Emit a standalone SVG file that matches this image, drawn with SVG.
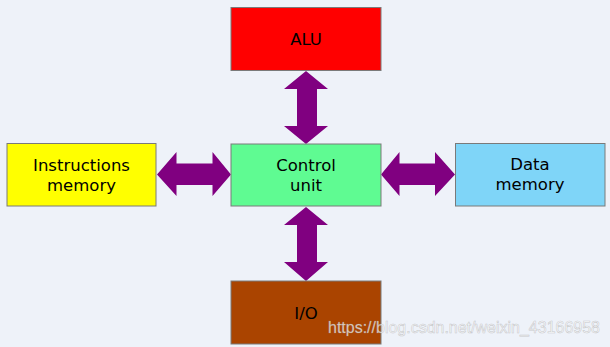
<svg xmlns="http://www.w3.org/2000/svg" width="610" height="347" viewBox="0 0 610 347">
  <style>
    .box { stroke: #7a7a7a; stroke-width: 1; }
    .lbl { font-family: "DejaVu Sans", sans-serif; font-size: 16.5px; fill: #000; text-anchor: middle; }
    .bus { fill: #800080; }
    .wm { font-family: "Liberation Sans", Arial, sans-serif; font-size: 17px; fill: #ffffff; fill-opacity: 0.75; stroke: #999; stroke-opacity: 0.5; stroke-width: 0.6; }
  </style>
  <rect width="610" height="347" fill="#eef2f9"/>

  <g id="connectors">
    <!-- ALU <-> Control unit -->
    <polygon class="bus" points="306,71 328,89 317,89 317,126 328,126 306,144 284,126 297,126 297,89 284,89"/>
    <!-- Control unit <-> I/O -->
    <polygon class="bus" points="306,207 328,225 317,225 317,262 328,262 306,281 284,262 297,262 297,225 284,225"/>
    <!-- Instructions memory <-> Control unit -->
    <polygon class="bus" points="157,174.5 176.5,152 176.5,163.5 212.5,163.5 212.5,152 231,174.5 212.5,196 212.5,185 176.5,185 176.5,196"/>
    <!-- Control unit <-> Data memory -->
    <polygon class="bus" points="381,174.5 399.5,152 399.5,163.5 435,163.5 435,152 455,174.5 435,196 435,185 399.5,185 399.5,196"/>
  </g>

  <g id="alu">
    <rect class="box" x="231" y="7.5" width="150" height="63" fill="#ff0000"/>
    <text class="lbl" x="306" y="45">ALU</text>
  </g>

  <g id="control-unit">
    <rect class="box" x="231" y="144" width="150" height="62" fill="#5ffb92"/>
    <text class="lbl" x="306" y="171">Control</text>
    <text class="lbl" x="306" y="191">unit</text>
  </g>

  <g id="instructions-memory">
    <rect class="box" x="7" y="143.5" width="149" height="62.5" fill="#ffff00"/>
    <text class="lbl" x="81.5" y="171">Instructions</text>
    <text class="lbl" x="81.5" y="191">memory</text>
  </g>

  <g id="data-memory">
    <rect class="box" x="455.5" y="143.5" width="149.5" height="62.5" fill="#7fd5f8"/>
    <text class="lbl" x="530" y="170">Data</text>
    <text class="lbl" x="530" y="190">memory</text>
  </g>

  <g id="io">
    <rect class="box" x="231" y="281" width="150" height="63" fill="#aa4400"/>
    <text class="lbl" x="306" y="319">I/O</text>
  </g>

  <text class="wm" x="328" y="333" textLength="272" lengthAdjust="spacingAndGlyphs">https://blog.csdn.net/weixin_43166958</text>
</svg>
